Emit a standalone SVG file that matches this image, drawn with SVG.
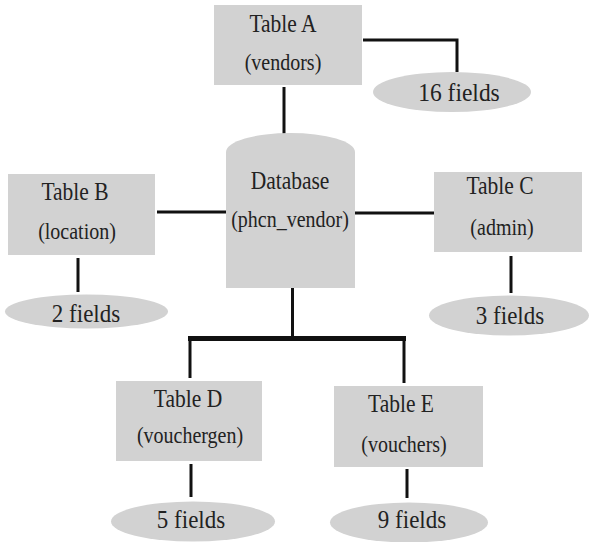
<svg xmlns="http://www.w3.org/2000/svg" width="590" height="542" viewBox="0 0 590 542">
<style>
.box{fill:#d2d2d2;stroke:none}
.ln{stroke:#111;stroke-width:3;fill:none}
.bar{stroke:#111;stroke-width:5;fill:none}
</style>
<rect width="590" height="542" fill="#ffffff"/>
<g id="connectors">
<polyline class="ln" points="363,40 457,40 457,72"/>
<line class="ln" x1="284" y1="87" x2="284" y2="134"/>
<line class="ln" x1="157" y1="212" x2="226" y2="212"/>
<line class="ln" x1="355" y1="213" x2="434" y2="213"/>
<line class="ln" x1="78" y1="258" x2="78" y2="292"/>
<line class="ln" x1="511" y1="256" x2="511" y2="293"/>
<line class="ln" x1="292.5" y1="288" x2="292.5" y2="338"/>
<line class="bar" x1="188" y1="338.5" x2="406" y2="338.5"/>
<line class="ln" x1="190" y1="338" x2="190" y2="378"/>
<line class="ln" x1="404" y1="338" x2="404" y2="383"/>
<line class="ln" x1="191" y1="464" x2="191" y2="497"/>
<line class="ln" x1="407" y1="469" x2="407" y2="498"/>
</g>
<g id="tableA">
<rect class="box" x="214" y="5" width="148" height="80"/>
<text transform="translate(283,32) scale(1,1.2)" font-family="Liberation Serif" font-size="21.5" fill="#222" text-anchor="middle">Table A</text>
<text transform="translate(283,70) scale(1,1.2)" font-family="Liberation Serif" font-size="20" fill="#222" text-anchor="middle">(vendors)</text>
</g>
<g id="fieldsA">
<ellipse class="box" cx="452" cy="92" rx="79" ry="20"/>
<text transform="translate(459,101) scale(1,1.1)" font-family="Liberation Serif" font-size="23.5" fill="#222" text-anchor="middle">16 fields</text>
</g>
<g id="database">
<path class="box" d="M226,288 V152 A64.5,19 0 0 1 355,152 V288 Z"/>
<text transform="translate(290,189) scale(1,1.2)" font-family="Liberation Serif" font-size="21.5" fill="#222" text-anchor="middle">Database</text>
<text transform="translate(290,227) scale(1,1.2)" font-family="Liberation Serif" font-size="20" fill="#222" text-anchor="middle">(phcn_vendor)</text>
</g>
<g id="tableB">
<rect class="box" x="8" y="174" width="147" height="81"/>
<text transform="translate(75,200) scale(1,1.2)" font-family="Liberation Serif" font-size="21.5" fill="#222" text-anchor="middle">Table B</text>
<text transform="translate(77,239) scale(1,1.2)" font-family="Liberation Serif" font-size="20" fill="#222" text-anchor="middle">(location)</text>
</g>
<g id="fieldsB">
<ellipse class="box" cx="86.5" cy="311.5" rx="81.5" ry="17"/>
<text transform="translate(86,322) scale(1,1.1)" font-family="Liberation Serif" font-size="23" fill="#222" text-anchor="middle">2 fields</text>
</g>
<g id="tableC">
<rect class="box" x="434" y="172" width="148" height="80"/>
<text transform="translate(500,194) scale(1,1.2)" font-family="Liberation Serif" font-size="21.5" fill="#222" text-anchor="middle">Table C</text>
<text transform="translate(502,235) scale(1,1.2)" font-family="Liberation Serif" font-size="20" fill="#222" text-anchor="middle">(admin)</text>
</g>
<g id="fieldsC">
<ellipse class="box" cx="509" cy="315.5" rx="80" ry="20"/>
<text transform="translate(510,324) scale(1,1.1)" font-family="Liberation Serif" font-size="23" fill="#222" text-anchor="middle">3 fields</text>
</g>
<g id="tableD">
<rect class="box" x="116" y="381" width="146" height="80"/>
<text transform="translate(188,407) scale(1,1.2)" font-family="Liberation Serif" font-size="21.5" fill="#222" text-anchor="middle">Table D</text>
<text transform="translate(190,443) scale(1,1.2)" font-family="Liberation Serif" font-size="20" fill="#222" text-anchor="middle">(vouchergen)</text>
</g>
<g id="fieldsD">
<ellipse class="box" cx="193" cy="521.5" rx="82" ry="20"/>
<text transform="translate(191,528) scale(1,1.1)" font-family="Liberation Serif" font-size="23" fill="#222" text-anchor="middle">5 fields</text>
</g>
<g id="tableE">
<rect class="box" x="334" y="386" width="149" height="81"/>
<text transform="translate(401,412) scale(1,1.2)" font-family="Liberation Serif" font-size="21.5" fill="#222" text-anchor="middle">Table E</text>
<text transform="translate(404,452) scale(1,1.2)" font-family="Liberation Serif" font-size="20" fill="#222" text-anchor="middle">(vouchers)</text>
</g>
<g id="fieldsE">
<ellipse class="box" cx="409" cy="522.5" rx="79" ry="20"/>
<text transform="translate(412,528) scale(1,1.1)" font-family="Liberation Serif" font-size="23" fill="#222" text-anchor="middle">9 fields</text>
</g>
</svg>
